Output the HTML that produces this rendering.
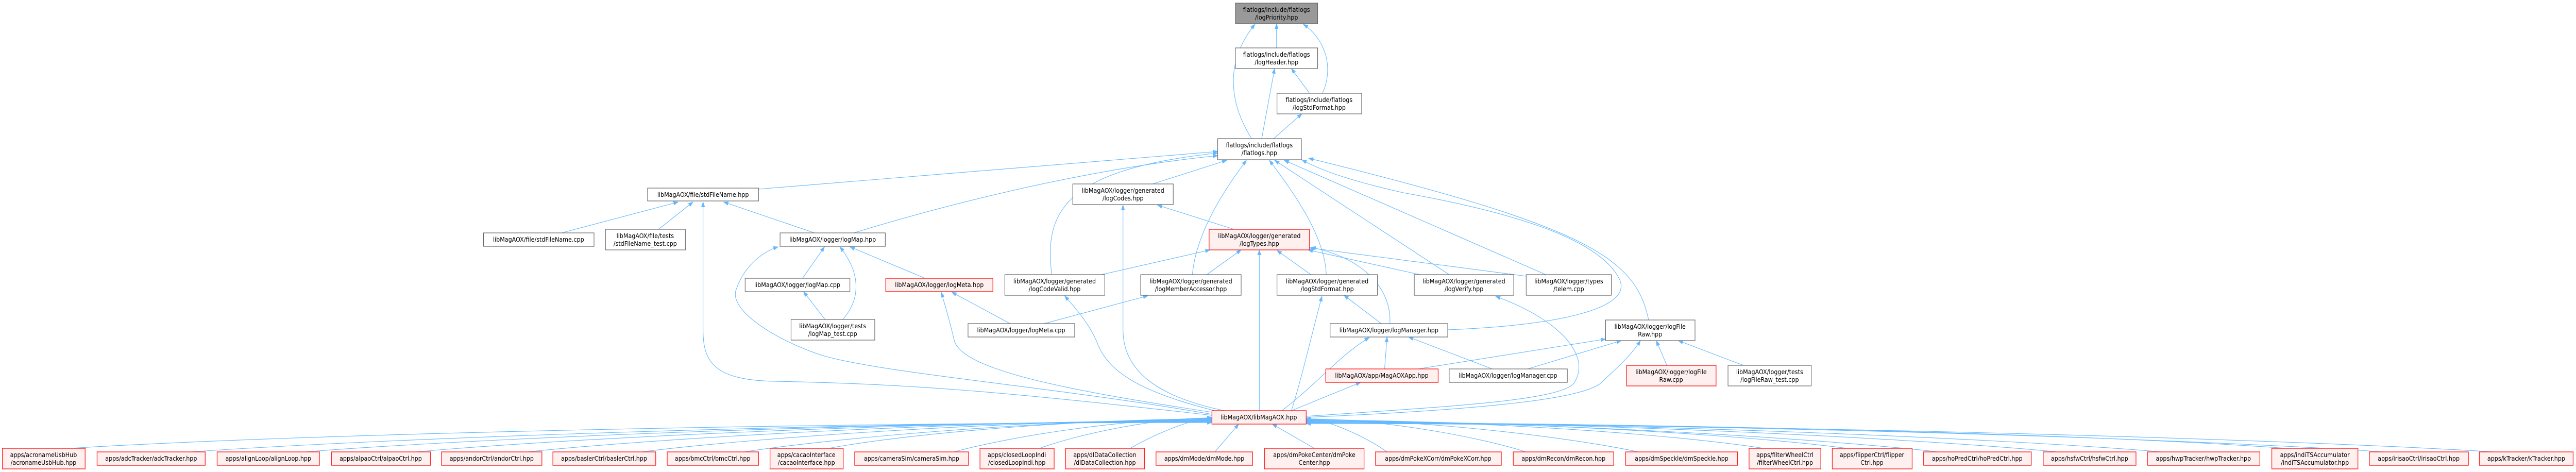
<!DOCTYPE html>
<html><head><meta charset="utf-8"><style>
html,body{margin:0;padding:0;background:#fff;width:100%;height:100%;overflow:hidden;}
svg{position:fixed;left:0;top:0;width:100vw;height:100vh;display:block;}
text{font-family:"DejaVu Sans","Liberation Sans",sans-serif;font-size:12px;fill:#000;text-anchor:middle;}
.n{fill:#fff;stroke:#666;stroke-width:1.2;}
.r{fill:#fff0f0;stroke:#ff2020;stroke-width:1.4;}
.g{fill:#999;stroke:#666;stroke-width:1.2;}
.e{fill:none;stroke:#63b8ff;stroke-width:1.1;marker-end:url(#a);}
</style></head><body>
<svg viewBox="0 0 5386 916" preserveAspectRatio="none" xmlns="http://www.w3.org/2000/svg">
<defs><marker id="a" markerWidth="11" markerHeight="8" refX="10" refY="4" orient="auto" markerUnits="userSpaceOnUse"><path d="M0,0 L11,4 L0,8z" fill="#63b8ff"/></marker></defs>
<g>
<path class="e" d="M2669,93 L2669,46"/>
<path class="e" d="M2765,181 C2790,130 2770,75 2725,47"/>
<path class="e" d="M2738,181 L2700,133"/>
<path class="e" d="M2617,269 C2570,200 2560,120 2624,47"/>
<path class="e" d="M2638,269 L2665,133"/>
<path class="e" d="M2663,269 L2722,221"/>
<path class="e" d="M1586,367 L2546,294"/>
<path class="e" d="M1785,452 C1950,405 2250,330 2546,302"/>
<path class="e" d="M2199,533 C2185,420 2210,330 2546,297"/>
<path class="e" d="M2410,357 L2565,311"/>
<path class="e" d="M2493,533 C2500,460 2550,380 2606,311"/>
<path class="e" d="M2773,533 C2770,460 2710,380 2654,311"/>
<path class="e" d="M3030,533 L2665,311"/>
<path class="e" d="M3232,533 L2685,311"/>
<path class="e" d="M3027,640 C3250,632 3420,600 3385,540 C3340,460 3150,410 2934,374 C2820,350 2760,330 2722,310"/>
<path class="e" d="M3447,621 C3420,500 3320,440 2736,307"/>
<path class="e" d="M1703,452 L1513,392"/>
<path class="e" d="M1174,452 L1418,392"/>
<path class="e" d="M1377,445 L1449,392"/>
<path class="e" d="M2534,806 C2100,760 1900,745 1620,740 C1490,738 1470,700 1470,640 L1470,392"/>
<path class="e" d="M1678,540 L1724,479"/>
<path class="e" d="M1762,620 C1800,580 1800,530 1756,479"/>
<path class="e" d="M1725,620 L1680,566"/>
<path class="e" d="M1934,540 L1777,479"/>
<path class="e" d="M2534,804 C2200,750 1850,725 1720,690 C1620,660 1520,600 1540,560 C1555,520 1590,490 1627,479"/>
<path class="e" d="M2580,445 L2420,398"/>
<path class="e" d="M2560,797 C2420,770 2348,720 2348,640 L2348,398"/>
<path class="e" d="M2303,533 L2530,485"/>
<path class="e" d="M2523,533 L2595,485"/>
<path class="e" d="M2633,797 L2633,485"/>
<path class="e" d="M2741,533 L2670,486"/>
<path class="e" d="M2969,533 L2735,485"/>
<path class="e" d="M3191,536 L2738,481"/>
<path class="e" d="M2906,628 C2910,560 2850,500 2741,480"/>
<path class="e" d="M2112,628 L1990,567"/>
<path class="e" d="M2183,628 L2400,574"/>
<path class="e" d="M2534,800 C2250,760 2010,720 1995,660 C1985,620 1975,590 1968,567"/>
<path class="e" d="M2540,797 C2380,760 2320,720 2297,672 C2280,630 2250,600 2226,574"/>
<path class="e" d="M2888,628 L2810,573"/>
<path class="e" d="M2700,797 C2720,740 2745,640 2764,575"/>
<path class="e" d="M2731,808 C3000,790 3250,780 3290,745 C3330,690 3260,620 3127,575"/>
<path class="e" d="M2895,716 L2900,654"/>
<path class="e" d="M3120,716 L2945,654"/>
<path class="e" d="M2680,797 C2760,740 2800,690 2863,655"/>
<path class="e" d="M2700,797 L2845,742"/>
<path class="e" d="M2965,716 L3357,658"/>
<path class="e" d="M3194,716 L3390,661"/>
<path class="e" d="M3485,709 L3463,661"/>
<path class="e" d="M3645,709 L3509,661"/>
<path class="e" d="M2731,810 C3100,795 3300,775 3345,745 C3380,715 3410,690 3430,661"/>
<path class="e" d="M148,870 C625,842 1699,820 2534,820"/>
<path class="e" d="M399,877 C826,849 1787,819 2534,819"/>
<path class="e" d="M638,877 C1017,849 1870,818 2534,818"/>
<path class="e" d="M870,877 C1203,849 1952,817 2534,817"/>
<path class="e" d="M1103,877 C1389,849 2033,816 2534,816"/>
<path class="e" d="M1341,877 C1580,849 2116,815 2534,815"/>
<path class="e" d="M1556,877 C1752,849 2192,814 2534,814"/>
<path class="e" d="M1733,870 C1893,842 2254,813 2534,813"/>
<path class="e" d="M1995,877 C2103,849 2345,812 2534,812"/>
<path class="e" d="M2174,870 C2246,845 2408,811 2534,811"/>
<path class="e" d="M2363,870 C2400,850 2480,815 2534,810"/>
<path class="e" d="M2540,877 L2590,823"/>
<path class="e" d="M2748,870 L2660,823"/>
<path class="e" d="M2900,877 C2860,850 2780,815 2731,812"/>
<path class="e" d="M3190,877 C3098,849 2892,813 2731,813"/>
<path class="e" d="M3425,877 C3286,849 2974,814 2731,814"/>
<path class="e" d="M3687,870 C3496,842 3066,815 2731,815"/>
<path class="e" d="M3861,870 C3635,842 3127,816 2731,816"/>
<path class="e" d="M4052,877 C3788,849 3193,817 2731,817"/>
<path class="e" d="M4302,877 C3988,849 3281,818 2731,818"/>
<path class="e" d="M4520,877 C4162,849 3357,819 2731,819"/>
<path class="e" d="M4780,870 C4370,842 3448,820 2731,820"/>
<path class="e" d="M4984,877 C4533,849 3520,821 2731,821"/>
<path class="e" d="M5214,877 C4717,849 3600,822 2731,822"/>
</g>
<g>
<rect class="g" x="2583" y="6" width="172" height="40"/><text x="2669" y="23">flatlogs/include/flatlogs</text><text x="2669" y="38">/logPriority.hpp</text>
<rect class="n" x="2583" y="93" width="172" height="40"/><text x="2669" y="110">flatlogs/include/flatlogs</text><text x="2669" y="125">/logHeader.hpp</text>
<rect class="n" x="2670" y="181" width="177" height="40"/><text x="2758" y="198">flatlogs/include/flatlogs</text><text x="2758" y="213">/logStdFormat.hpp</text>
<rect class="n" x="2546" y="269" width="175" height="41"/><text x="2633" y="286">flatlogs/include/flatlogs</text><text x="2633" y="301">/flatlogs.hpp</text>
<rect class="n" x="1354" y="365" width="232" height="25"/><text x="1470" y="382">libMagAOX/file/stdFileName.hpp</text>
<rect class="n" x="2243" y="357" width="210" height="40"/><text x="2348" y="374">libMagAOX/logger/generated</text><text x="2348" y="389">/logCodes.hpp</text>
<rect class="n" x="1011" y="452" width="231" height="26"/><text x="1126" y="469">libMagAOX/file/stdFileName.cpp</text>
<rect class="n" x="1266" y="445" width="167" height="40"/><text x="1349" y="462">libMagAOX/file/tests</text><text x="1349" y="477">/stdFileName_test.cpp</text>
<rect class="n" x="1631" y="452" width="220" height="26"/><text x="1741" y="469">libMagAOX/logger/logMap.hpp</text>
<rect class="r" x="2528" y="445" width="210" height="40"/><text x="2633" y="462">libMagAOX/logger/generated</text><text x="2633" y="477">/logTypes.hpp</text>
<rect class="n" x="1558" y="540" width="219" height="26"/><text x="1667" y="557">libMagAOX/logger/logMap.cpp</text>
<rect class="r" x="1852" y="540" width="224" height="26"/><text x="1964" y="557">libMagAOX/logger/logMeta.hpp</text>
<rect class="n" x="2101" y="533" width="209" height="40"/><text x="2205" y="550">libMagAOX/logger/generated</text><text x="2205" y="565">/logCodeValid.hpp</text>
<rect class="n" x="2385" y="533" width="210" height="40"/><text x="2490" y="550">libMagAOX/logger/generated</text><text x="2490" y="565">/logMemberAccessor.hpp</text>
<rect class="n" x="2670" y="533" width="210" height="40"/><text x="2775" y="550">libMagAOX/logger/generated</text><text x="2775" y="565">/logStdFormat.hpp</text>
<rect class="n" x="2957" y="533" width="208" height="40"/><text x="3061" y="550">libMagAOX/logger/generated</text><text x="3061" y="565">/logVerify.hpp</text>
<rect class="n" x="3191" y="533" width="178" height="40"/><text x="3280" y="550">libMagAOX/logger/types</text><text x="3280" y="565">/telem.cpp</text>
<rect class="n" x="1654" y="620" width="175" height="40"/><text x="1741" y="637">libMagAOX/logger/tests</text><text x="1741" y="652">/logMap_test.cpp</text>
<rect class="n" x="2024" y="628" width="223" height="26"/><text x="2135" y="645">libMagAOX/logger/logMeta.cpp</text>
<rect class="n" x="2781" y="628" width="246" height="26"/><text x="2904" y="645">libMagAOX/logger/logManager.hpp</text>
<rect class="n" x="3357" y="621" width="187" height="40"/><text x="3450" y="638">libMagAOX/logger/logFile</text><text x="3450" y="653">Raw.hpp</text>
<rect class="r" x="2772" y="716" width="235" height="26"/><text x="2889" y="733">libMagAOX/app/MagAOXApp.hpp</text>
<rect class="n" x="3030" y="716" width="247" height="26"/><text x="3153" y="733">libMagAOX/logger/logManager.cpp</text>
<rect class="r" x="3401" y="709" width="187" height="40"/><text x="3494" y="726">libMagAOX/logger/logFile</text><text x="3494" y="741">Raw.cpp</text>
<rect class="n" x="3613" y="709" width="174" height="40"/><text x="3700" y="726">libMagAOX/logger/tests</text><text x="3700" y="741">/logFileRaw_test.cpp</text>
<rect class="r" x="2534" y="797" width="197" height="26"/><text x="2632" y="814">libMagAOX/libMagAOX.hpp</text>
</g>
<g>
<rect class="r" x="5" y="870" width="173" height="40"/><text x="91" y="887">apps/acronameUsbHub</text><text x="91" y="902">/acronameUsbHub.hpp</text>
<rect class="r" x="203" y="877" width="226" height="26"/><text x="316" y="894">apps/adcTracker/adcTracker.hpp</text>
<rect class="r" x="454" y="877" width="214" height="26"/><text x="561" y="894">apps/alignLoop/alignLoop.hpp</text>
<rect class="r" x="693" y="877" width="207" height="26"/><text x="796" y="894">apps/alpaoCtrl/alpaoCtrl.hpp</text>
<rect class="r" x="923" y="877" width="210" height="26"/><text x="1028" y="894">apps/andorCtrl/andorCtrl.hpp</text>
<rect class="r" x="1156" y="877" width="215" height="26"/><text x="1263" y="894">apps/baslerCtrl/baslerCtrl.hpp</text>
<rect class="r" x="1395" y="877" width="191" height="26"/><text x="1490" y="894">apps/bmcCtrl/bmcCtrl.hpp</text>
<rect class="r" x="1610" y="870" width="153" height="40"/><text x="1686" y="887">apps/cacaoInterface</text><text x="1686" y="902">/cacaoInterface.hpp</text>
<rect class="r" x="1787" y="877" width="238" height="26"/><text x="1906" y="894">apps/cameraSim/cameraSim.hpp</text>
<rect class="r" x="2049" y="870" width="155" height="40"/><text x="2126" y="887">apps/closedLoopIndi</text><text x="2126" y="902">/closedLoopIndi.hpp</text>
<rect class="r" x="2228" y="870" width="165" height="40"/><text x="2310" y="887">apps/dlDataCollection</text><text x="2310" y="902">/dlDataCollection.hpp</text>
<rect class="r" x="2417" y="877" width="202" height="26"/><text x="2518" y="894">apps/dmMode/dmMode.hpp</text>
<rect class="r" x="2644" y="870" width="208" height="40"/><text x="2748" y="887">apps/dmPokeCenter/dmPoke</text><text x="2748" y="902">Center.hpp</text>
<rect class="r" x="2876" y="877" width="263" height="26"/><text x="3007" y="894">apps/dmPokeXCorr/dmPokeXCorr.hpp</text>
<rect class="r" x="3164" y="877" width="210" height="26"/><text x="3269" y="894">apps/dmRecon/dmRecon.hpp</text>
<rect class="r" x="3399" y="877" width="234" height="26"/><text x="3516" y="894">apps/dmSpeckle/dmSpeckle.hpp</text>
<rect class="r" x="3657" y="870" width="150" height="40"/><text x="3732" y="887">apps/filterWheelCtrl</text><text x="3732" y="902">/filterWheelCtrl.hpp</text>
<rect class="r" x="3831" y="870" width="167" height="40"/><text x="3914" y="887">apps/flipperCtrl/flipper</text><text x="3914" y="902">Ctrl.hpp</text>
<rect class="r" x="4022" y="877" width="225" height="26"/><text x="4134" y="894">apps/hoPredCtrl/hoPredCtrl.hpp</text>
<rect class="r" x="4272" y="877" width="194" height="26"/><text x="4369" y="894">apps/hsfwCtrl/hsfwCtrl.hpp</text>
<rect class="r" x="4490" y="877" width="235" height="26"/><text x="4607" y="894">apps/hwpTracker/hwpTracker.hpp</text>
<rect class="r" x="4750" y="870" width="180" height="40"/><text x="4840" y="887">apps/indiTSAccumulator</text><text x="4840" y="902">/indiTSAccumulator.hpp</text>
<rect class="r" x="4954" y="877" width="207" height="26"/><text x="5057" y="894">apps/irisaoCtrl/irisaoCtrl.hpp</text>
<rect class="r" x="5184" y="877" width="196" height="26"/><text x="5282" y="894">apps/kTracker/kTracker.hpp</text>
</g>
</svg>
</body></html>
